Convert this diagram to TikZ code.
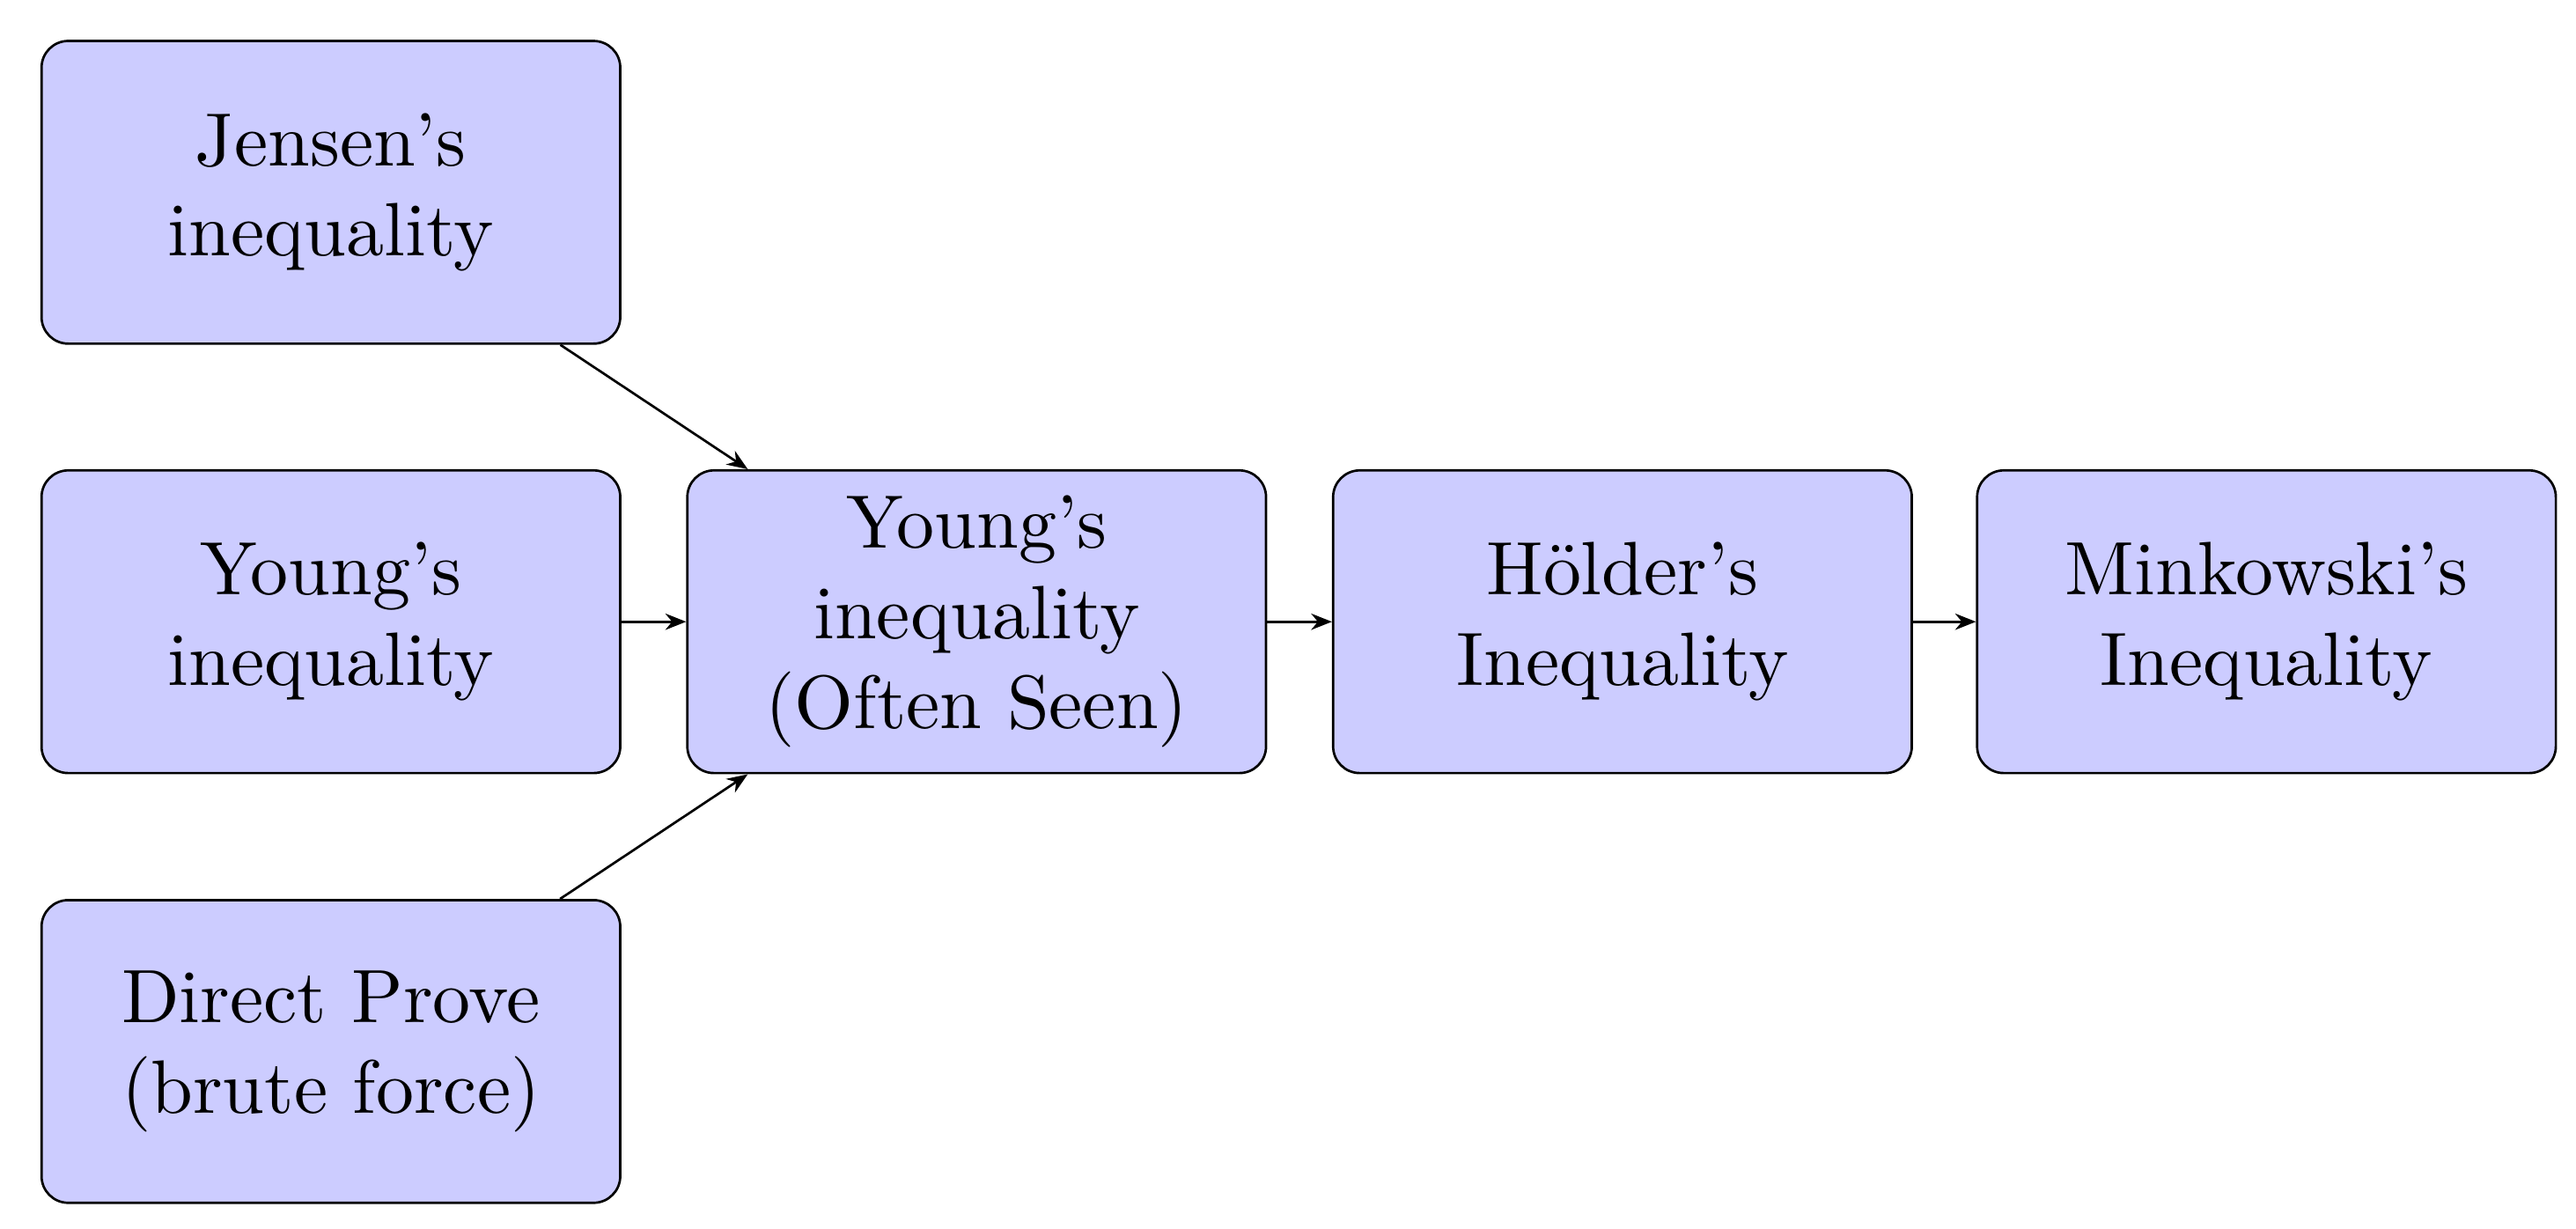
\documentclass[tikz,border=0pt]{standalone}
\usepackage{fontspec}
\setmainfont{lmroman10-regular}[Extension=.otf]
\usetikzlibrary{arrows.meta}
\begin{document}
\begin{tikzpicture}[x=1pt,y=1pt,
  box/.style={draw, thick, fill=blue!20, rounded corners=9pt,
    minimum width=195pt, minimum height=102pt, align=center,
    font=\fontsize{25.5}{30.4}\selectfont, inner sep=0pt},
  arr/.style={thick, -{Stealth[length=7pt,width=5.5pt]}}]
\useasboundingbox (0,0) rectangle (868,-414.1);
\node[box] (jensen) at (111.5,-64.8) {Jensen's\\inequality};
\node[box] (young) at (111.5,-209.5) {Young's\\inequality};
\node[box] (direct) at (111.5,-354.3) {Direct Prove\\(brute force)};
\node[box] (youngos) at (329.1,-209.5) {Young's\\inequality\\(Often Seen)};
\node[box] (holder) at (546.7,-209.5) {Hölder's\\Inequality};
\node[box] (mink) at (763.7,-209.5) {Minkowski's\\Inequality};
\draw[arr] (jensen) -- (youngos);
\draw[arr] (young) -- (youngos);
\draw[arr] (direct) -- (youngos);
\draw[arr] (youngos) -- (holder);
\draw[arr] (holder) -- (mink);
\end{tikzpicture}
\end{document}
